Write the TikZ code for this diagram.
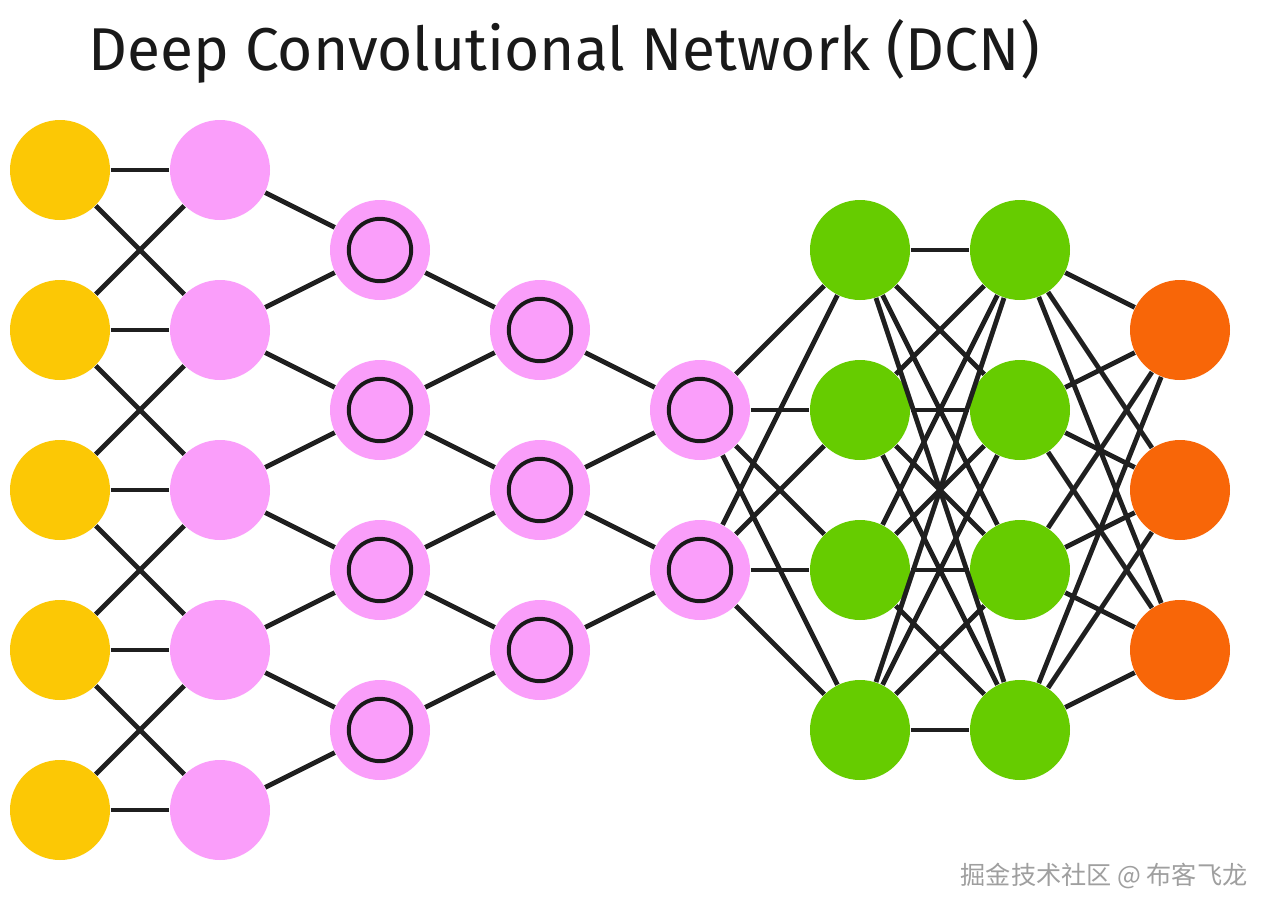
\documentclass[tikz,border=0pt]{standalone}
\usepackage{fontspec}
\setmainfont{Fira Sans}
\newfontfamily\cjkfont{Noto Sans CJK SC}
\definecolor{cyellow}{RGB}{252,200,5}
\definecolor{cpink}{RGB}{250,158,250}
\definecolor{cgreen}{RGB}{102,204,0}
\definecolor{corange}{RGB}{248,102,8}
\tikzset{
  cell/.style={circle,inner sep=0pt,minimum size=1.25cm},
  inp/.style={cell,fill=cyellow},
  ker/.style={cell,fill=cpink},
  conv/.style={cell,fill=cpink,path picture={\draw[line width=1.4pt,black!90] (path picture bounding box.center) circle (0.39cm);}},
  hid/.style={cell,fill=cgreen},
  outp/.style={cell,fill=corange},
  wire/.style={line width=1.7pt,black!88}
}
\begin{document}
\begin{tikzpicture}
\path[fill=white,use as bounding box] (0,0) rectangle (15.9,-11.4);
\node[anchor=base west,font=\fontsize{21.5}{24}\selectfont,text=black!90] (title) at (0.98,-0.88) {Deep Convolutional Network (DCN)};
% cells
\foreach \n/\y in {1/-2.125,2/-4.125,3/-6.125,4/-8.125,5/-10.125} {
  \node[inp] (i\n) at (0.75,\y) {};
  \node[ker] (k\n) at (2.75,\y) {};
}
\foreach \n/\y in {1/-3.125,2/-5.125,3/-7.125,4/-9.125} {
  \node[conv] (c\n) at (4.75,\y) {};
  \node[hid] (h\n) at (10.75,\y) {};
  \node[hid] (g\n) at (12.75,\y) {};
}
\foreach \n/\y in {1/-4.125,2/-6.125,3/-8.125} {
  \node[conv] (d\n) at (6.75,\y) {};
  \node[outp] (o\n) at (14.75,\y) {};
}
\node[conv] (e1) at (8.75,-5.125) {};
\node[conv] (e2) at (8.75,-7.125) {};
% local connections
\foreach \n in {1,...,5} \draw[wire] (i\n) -- (k\n);
\foreach \n [evaluate=\n as \m using int(\n+1)] in {1,...,4} {
  \draw[wire] (i\n) -- (k\m);
  \draw[wire] (i\m) -- (k\n);
  \draw[wire] (k\n) -- (c\n);
  \draw[wire] (k\m) -- (c\n);
}
\foreach \n [evaluate=\n as \m using int(\n+1)] in {1,...,3} {
  \draw[wire] (c\n) -- (d\n);
  \draw[wire] (c\m) -- (d\n);
}
\foreach \n [evaluate=\n as \m using int(\n+1)] in {1,2} {
  \draw[wire] (d\n) -- (e\n);
  \draw[wire] (d\m) -- (e\n);
}
% dense part
\foreach \a in {1,2} \foreach \b in {1,...,4} \draw[wire] (e\a) -- (h\b);
\foreach \a in {1,...,4} \foreach \b in {1,...,4} \draw[wire] (h\a) -- (g\b);
\foreach \a in {1,...,4} \foreach \b in {1,2,3} \draw[wire] (g\a) -- (o\b);
\node[anchor=base east,inner sep=0pt,font=\cjkfont\fontsize{8.95}{10}\selectfont,text=gray!75] (mark) at (15.6,-11.06) {掘金技术社区 @ 布客飞龙};
\end{tikzpicture}
\end{document}
